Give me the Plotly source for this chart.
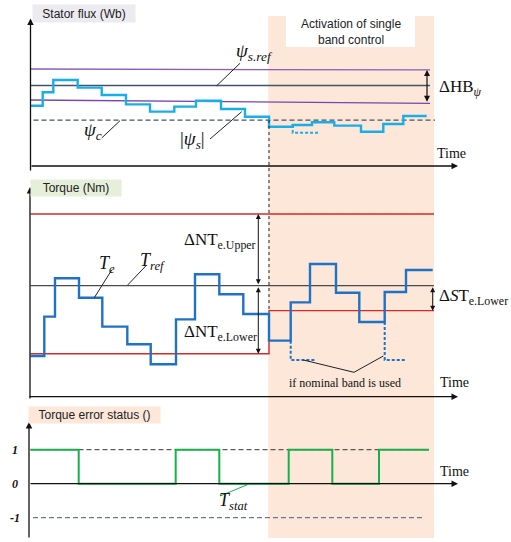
import plotly.graph_objects as go

W, H = 511, 542

# ---------------- data ----------------
# time axis (arbitrary units)
t_flux = [0, 1.22, 2.28, 4.72, 7.12, 9.55, 11.95, 14.38, 16.55, 19.05, 21.45,
          23.85, 26.22, 28.15, 30.38, 33.05, 35.28, 37.28, 39.62]
psi_s = [0.749, 0.916, 1.068, 0.973, 0.882, 0.766, 0.675, 0.737, 0.811, 0.708,
         0.612, 0.488, 0.509, 0.543, 0.501, 0.426, 0.522, 0.621]
psi_ref = 1.0
psi_upper = [1.205, 1.193]
psi_lower = [0.820, 0.779]
psi_c = 0.571
psi_nominal_t = [26.22, 26.22, 28.75]
psi_nominal = [0.509, 0.414, 0.414]

t_torque = [0, 1.38, 2.45, 4.85, 7.18, 9.68, 12.02, 14.55, 16.45, 18.88, 21.28,
            23.85, 26.02, 27.95, 30.55, 32.88, 35.42, 37.55, 40.22]
T_e = [3.67, 7.21, 10.67, 8.92, 6.31, 4.72, 2.92, 6.97, 11.03, 9.23, 7.45,
       5.05, 8.50, 11.95, 9.37, 6.73, 9.43, 11.41]
T_ref = 10.0
NT_upper = 16.46
NT_lower = 3.87
ST_lower = 7.75
t_switch = 23.85
T_nom1_t = [26.02, 26.02, 28.55]
T_nom1 = [5.05, 3.31, 3.31]
T_nom2_t = [35.42, 35.42, 37.45]
T_nom2 = [6.73, 3.31, 3.31]

t_stat = [0, 4.82, 14.52, 18.88, 25.82, 30.18, 34.85, 39.85]
T_stat = [1, 0, 1, 0, 1, 0, 1]
stat_ticks = [1, 0, -1]
stat_ticktext = ["1", "0", "-1"]

t_end_lines = 39.95
t_end_bands = 40.35
t_axis_end = 42.75
single_band_window = [23.78, 40.35]

# ---------------- layout helpers ----------------
X_RANGE = [-3.05, 48.05]


def panel(pix_top, pix_bot, zero_pix, ppu):
    dom = [1 - pix_bot / H, 1 - pix_top / H]
    rng = [(zero_pix - pix_bot) / ppu, (zero_pix - pix_top) / ppu]
    return dom, rng


dom1, rng1 = panel(16, 176, 166, 80.5)
dom2, rng2 = panel(176, 402, 396.7, 11.1)
dom3, rng3 = panel(402, 542, 483.7, 34.0)


def to_paper_y(v, dom, rng):
    return dom[0] + (v - rng[0]) / (rng[1] - rng[0]) * (dom[1] - dom[0])


def px(x):
    return x / W


def py(y):
    return 1 - y / H


SANS = "Liberation Sans, Arial, sans-serif"
SERIF = "Liberation Serif, Times New Roman, serif"

C_PURPLE = "#8a5bb8"
C_REFLINE = "#44546a"
C_LBLUE = "#1aaee8"
C_BLUE = "#1f72c4"
C_RED = "#d42a2a"
C_GREY = "#4a4a4a"
C_GREEN = "#19b04b"
C_PEACH = "#fce7d9"

fig = go.Figure()


def line(x, y, yaxis, color, width=1.3, dash="solid", shape="linear"):
    fig.add_trace(go.Scatter(x=x, y=y, mode="lines", xaxis="x", yaxis=yaxis,
                             line=dict(color=color, width=width, dash=dash, shape=shape),
                             hoverinfo="skip", showlegend=False))


# ---- stator flux panel ----
line([0, t_end_lines], psi_upper, "y", C_PURPLE, 1.3)
line([0, t_end_lines], [psi_ref, psi_ref], "y", C_REFLINE, 1.3)
line([0, t_end_lines], psi_lower, "y", "#7a45b0", 1.3)
line([0.3, 40.45], [psi_c, psi_c], "y", C_REFLINE, 1.3, dash="5px,3px")
line(t_flux, psi_s + [psi_s[-1]], "y", C_LBLUE, 2.4, shape="hv")
line(psi_nominal_t, psi_nominal, "y", C_LBLUE, 2.0, dash="3px,2px")

# ---- torque panel ----
line([0, t_end_bands], [NT_upper, NT_upper], "y2", C_RED, 1.4)
line([0, t_end_bands], [T_ref, T_ref], "y2", C_GREY, 1.3)
line([0, t_switch, t_switch, t_end_bands], [NT_lower, NT_lower, ST_lower, ST_lower],
     "y2", C_RED, 1.4)
line(t_torque, T_e + [T_e[-1]], "y2", C_BLUE, 2.4, shape="hv")
line(T_nom1_t, T_nom1, "y2", C_BLUE, 2.0, dash="3px,2px")
line(T_nom2_t, T_nom2, "y2", C_BLUE, 2.0, dash="3px,2px")

# ---- torque error status panel ----
line([0, 39.75], [1, 1], "y3", "#333333", 1.0, dash="5px,3px")
line([0.25, 39.25], [-1, -1], "y3", "#4a5a80", 1.0, dash="5px,3px")
line(t_stat, T_stat + [T_stat[-1]], "y3", C_GREEN, 2.0, shape="hv")

shapes = []
# single band control window
shapes.append(dict(type="rect", xref="x", yref="paper",
                   x0=single_band_window[0], x1=single_band_window[1],
                   y0=py(538), y1=py(16), fillcolor=C_PEACH, line_width=0, layer="below"))
shapes.append(dict(type="rect", xref="paper", yref="paper",
                   x0=px(286), x1=px(415), y0=py(47), y1=py(16),
                   fillcolor="white", line_width=0, layer="below"))
# switching instant
shapes.append(dict(type="line", xref="x", yref="paper", x0=t_switch, x1=t_switch,
                   y0=to_paper_y(psi_c, dom1, rng1), y1=to_paper_y(ST_lower, dom2, rng2),
                   line=dict(color="#222222", width=1, dash="dot")))

# leader lines for labels
leaders = [
    ((216.7, 85.7), (240, 63.3), "#222222"),
    ((101.7, 138), (120, 120.7), "#222222"),
    ((210, 139), (241.7, 111.7), "#222222"),
    ((94.3, 297.7), (111.7, 270), "#222222"),
    ((127.7, 285), (146.7, 265), "#222222"),
    ((303.3, 360), (354, 372.3), "#222222"),
    ((354, 372.3), (383.3, 356), "#222222"),
    ((220, 496), (248.3, 484.3), C_GREEN),
]
for (x0, y0), (x1, y1), c in leaders:
    shapes.append(dict(type="line", xref="paper", yref="paper",
                       x0=px(x0), y0=py(y0), x1=px(x1), y1=py(y1),
                       line=dict(color=c, width=1)))

annotations = []


def arrow(x_head, y_head, x_tail, y_tail, yref, both=False, size=1.0, width=1.3):
    annotations.append(dict(x=x_head, y=y_head, ax=x_tail, ay=y_tail,
                            xref="x", yref=yref, axref="x", ayref=yref,
                            text="", showarrow=True, arrowhead=2, arrowsize=size,
                            arrowwidth=width, arrowcolor="#111111",
                            arrowside="end+start" if both else "end",
                            startarrowhead=2, startarrowsize=size,
                            standoff=0, startstandoff=0))


# axes drawn as arrows
arrow(0, rng1[1] - 0.03, 0, -0.075, "y")
arrow(t_axis_end, 0, -0.05, 0, "y")
arrow(-0.05, 18.89, -0.05, -0.3, "y2")
arrow(t_axis_end, 0, -0.25, 0, "y2")
arrow(-0.15, 1.815, -0.15, -1.626, "y3")
arrow(t_axis_end, 0, -0.15, 0, "y3")

# band width arrows
arrow(39.65, psi_upper[1], 39.65, psi_lower[1], "y", both=True, size=1.0, width=1.2)
arrow(22.78, NT_upper, 22.78, T_ref, "y2", both=True, width=1.0)
arrow(22.78, NT_lower, 22.78, T_ref, "y2", both=True, width=1.0)
arrow(40.22, ST_lower, 40.22, T_ref, "y2", both=True, width=1.0)


def label(x, y, text, size, font=SERIF, xanchor="center", color="#111111", **kw):
    annotations.append(dict(x=px(x), y=py(y), xref="paper", yref="paper", text=text,
                            showarrow=False, xanchor=xanchor, yanchor="middle",
                            font=dict(family=font, size=size, color=color), **kw))


# panel headers
label(32, 13.5, "Stator flux (Wb)", 12, SANS, xanchor="left", color="#222222",
      bgcolor="#ecebf0", width=100, height=15, borderpad=1)
label(30, 188, "Torque (Nm)", 12, SANS, xanchor="left", color="#222222",
      bgcolor="#e6efd9", width=88, height=14, borderpad=1)
label(28, 415, "Torque error status ()", 12, SANS, xanchor="left", color="#222222",
      bgcolor=C_PEACH, width=129, height=14, borderpad=1)
label(350.5, 31.5, "Activation of single<br>band control", 12, SANS, color="#222222")

# symbols
label(254, 52, "<i>ψ</i><sub><i>s.ref</i></sub>", 19)
label(93, 131, "<i>ψ</i><sub><i>c</i></sub>", 19)
label(192, 140, "|<i>ψ</i><sub><i>s</i></sub>|", 19)
label(107, 265, "<i>T</i><sub><i>e</i></sub>", 18)
label(152, 261, "<i>T</i><sub><i>ref</i></sub>", 18)
label(233, 501, "<i>T</i><sub><i>stat</i></sub>", 18)

label(437, 88, "ΔHB<sub><i>ψ</i></sub>", 17, xanchor="left")
label(182, 241, "ΔNT<sub>e.Upper</sub>", 17, xanchor="left")
label(182, 333, "ΔNT<sub>e.Lower</sub>", 17, xanchor="left")
label(437, 297, "Δ<i>S</i>T<sub>e.Lower</sub>", 17, xanchor="left")

label(435, 153, "Time", 14, xanchor="left")
label(438, 382, "Time", 14, xanchor="left")
label(438, 471, "Time", 14, xanchor="left")
label(345, 383, "if nominal band is used", 12)

# status levels
for v, txt in zip(stat_ticks, stat_ticktext):
    annotations.append(dict(x=-1.55, y=v, xref="x", yref="y3", text=f"<b><i>{txt}</i></b>",
                            showarrow=False, xanchor="center", yanchor="middle",
                            font=dict(family=SERIF, size=12, color="#111111")))

hidden = dict(visible=False, fixedrange=True)
fig.update_layout(
    width=W, height=H,
    margin=dict(l=0, r=0, t=0, b=0),
    paper_bgcolor="white", plot_bgcolor="rgba(0,0,0,0)",
    showlegend=False,
    xaxis=dict(range=X_RANGE, domain=[0, 1], **hidden),
    yaxis=dict(range=rng1, domain=dom1, anchor="x", **hidden),
    yaxis2=dict(range=rng2, domain=dom2, anchor="x", **hidden),
    yaxis3=dict(range=rng3, domain=dom3, anchor="x", **hidden),
    shapes=shapes,
    annotations=annotations,
)

fig.write_html("out.html")
